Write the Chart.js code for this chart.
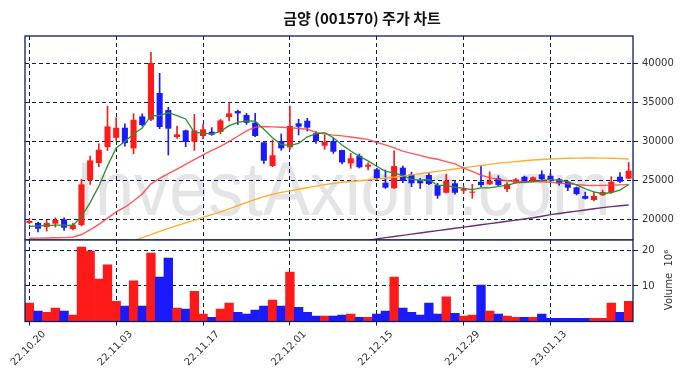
<!DOCTYPE html>
<html lang="ko">
<head>
<meta charset="UTF-8">
<title>금양 (001570) 주가 차트</title>
<script src="https://cdn.jsdelivr.net/npm/chart.js@4/dist/chart.umd.min.js"></script>
<style>
  html, body { margin: 0; padding: 0; background: #fff; }
  .wrap { position: relative; width: 686px; height: 378px; overflow: hidden; }
  #price { position: absolute; left: 0; top: 0; width: 686px; height: 240px; }
  #vol { position: absolute; left: 0; top: 239px; width: 686px; height: 139px; }
</style>
</head>
<body>
<div class="wrap">
  <canvas id="price" width="686" height="240"></canvas>
  <canvas id="vol" width="686" height="139"></canvas>
</div>
<script>
const dates = ['22.10.20','22.10.21','22.10.24','22.10.25','22.10.26','22.10.27','22.10.28','22.10.31',
  '22.11.01','22.11.02','22.11.03','22.11.04','22.11.07','22.11.08','22.11.09','22.11.10','22.11.11',
  '22.11.14','22.11.15','22.11.16','22.11.17','22.11.18','22.11.21','22.11.22','22.11.23','22.11.24',
  '22.11.25','22.11.28','22.11.29','22.11.30','22.12.01','22.12.02','22.12.05','22.12.06','22.12.07',
  '22.12.08','22.12.09','22.12.12','22.12.13','22.12.14','22.12.15','22.12.16','22.12.19','22.12.20',
  '22.12.21','22.12.22','22.12.23','22.12.26','22.12.27','22.12.28','22.12.29','23.01.02','23.01.03',
  '23.01.04','23.01.05','23.01.06','23.01.09','23.01.10','23.01.11','23.01.12','23.01.13','23.01.16',
  '23.01.17','23.01.18','23.01.19','23.01.20','23.01.25','23.01.26','23.01.27','23.01.30'];

const opens = [19600, 19600, 19060, 19490, 20040, 18800, 19320, 25080, 27260, 29310,
  30500, 31790, 29140, 33240, 32820, 36240, 34060, 30600, 31450, 30000,
  30730, 31280, 31240, 33160, 33930, 33420, 32430, 29920, 26880, 30090,
  29280, 32360, 32690, 31080, 29490, 30090, 28930, 27230, 28200, 26800,
  26460, 24740, 24030, 26670, 25820, 25000, 25730, 24450, 23460, 24670,
  23720, 23460, 24870, 24540, 25300, 23930, 24740, 25510, 24870, 25820,
  25640, 25180, 24870, 24150, 23040, 22530, 23130, 23510, 25510, 25260];
const highs = [20100, 19700, 19900, 20250, 20250, 19530, 25170, 28160, 29740, 34560,
  33070, 32300, 33580, 33580, 41460, 38770, 34410, 32000, 31500, 33500,
  32220, 31800, 32860, 35000, 34050, 33630, 33630, 29960, 30220, 31000,
  34580, 32870, 33000, 31290, 30860, 30470, 28930, 28500, 28420, 27300,
  26600, 26370, 28840, 26880, 26090, 25300, 26090, 24660, 25850, 25000,
  24330, 24540, 26880, 26150, 25640, 24750, 25300, 25600, 25500, 26280,
  25950, 25300, 24960, 24200, 23550, 23590, 23810, 25510, 26050, 27340];
const lows = [19500, 18450, 18550, 19060, 18630, 18680, 19190, 24530, 26790, 28880,
  30080, 29440, 28450, 32000, 32700, 31670, 28290, 30430, 29360, 28890,
  30380, 30810, 31020, 32650, 32220, 32220, 30640, 27230, 26800, 28900,
  29020, 30860, 31370, 29790, 29020, 28500, 27140, 26590, 26630, 26370,
  25170, 24010, 24000, 24740, 24230, 24010, 24500, 22740, 23400, 23280,
  23400, 22740, 24230, 24500, 24330, 23590, 24700, 24750, 24870, 24960,
  24830, 24410, 23720, 23160, 22650, 22400, 23100, 23380, 24750, 25260];
const closes = [19850, 18850, 19570, 19960, 18980, 19360, 24530, 27600, 28970, 31960,
  31790, 29820, 32810, 32130, 40090, 31880, 31670, 30940, 29960, 31450,
  31580, 30900, 32730, 33630, 33630, 32430, 30730, 27560, 28260, 29150,
  32010, 31920, 31800, 30090, 29960, 28720, 27350, 27870, 26720, 27050,
  25310, 24100, 26880, 24960, 24670, 24670, 24580, 23080, 25000, 23460,
  23930, 23600, 24450, 24960, 24450, 24540, 25180, 24830, 25430, 25180,
  25090, 24670, 24100, 23290, 22690, 23040, 23550, 24870, 24870, 26280];

// 거래량 (백만 주)
const volumes = [5.2, 2.9, 2.6, 3.8, 2.9, 1.8, 20.9, 19.8, 11.9, 15.9,
  5.7, 4.3, 11.4, 4.3, 19.2, 12.5, 17.8, 3.8, 3.5, 8.5,
  2.1, 1.2, 3.5, 5.2, 2.6, 2.1, 3.2, 4.3, 6.0, 4.3,
  13.9, 4.0, 2.6, 1.5, 1.5, 1.5, 1.8, 2.1, 1.2, 1.2,
  2.1, 2.9, 12.5, 3.8, 2.6, 1.8, 5.2, 2.1, 6.9, 2.3,
  1.5, 1.8, 10.2, 2.9, 2.1, 1.5, 1.2, 1.2, 1.2, 2.1,
  0.9, 0.9, 0.9, 0.9, 0.9, 0.9, 0.9, 5.2, 2.6, 5.7];

const ma5 = [19150, 19200, 19250, 19300, 19300, 19250, 20400, 22200, 24300, 26900,
  29200, 30030, 31000, 31750, 33330, 33350, 33720, 33340, 32910, 31180,
  31120, 30970, 31320, 32060, 32490, 32660, 32630, 31600, 30520, 29630,
  29540, 29780, 30630, 30990, 31160, 30500, 29580, 28800, 28120, 27540,
  26860, 26210, 26010, 25660, 25180, 25060, 25150, 24390, 24400, 24160,
  24010, 23850, 24090, 24080, 24280, 24400, 24720, 24790, 24890, 25030,
  25140, 25040, 24890, 24470, 23970, 23560, 23330, 23490, 23800, 24520];
const ma20 = [17620, 17640, 17660, 17680, 17700, 17750, 18100, 18700, 19400, 20200,
  21000, 21600, 22400, 23300, 24600, 25300, 25900, 26500, 27100, 27700,
  28300, 28900, 29400, 30000, 30700, 31400, 31850, 31950, 31900, 31850,
  31800, 31700, 31600, 31200, 31000, 30850, 30750, 30600, 30450, 30300,
  29900, 29600, 29200, 28800, 28500, 28250, 27950, 27750, 27450, 27150,
  26600, 26200, 25700, 25400, 25150, 25000, 24900, 24880, 24870, 24860,
  24800, 24700, 24600, 24500, 24420, 24380, 24400, 24430, 24460, 24500];
const ma60 = [null, null, null, null, null, null, null, null, null, null,
  null, null, 17300, 17700, 18100, 18500, 18900, 19250, 19600, 19950,
  20300, 20650, 21000, 21400, 21800, 22200, 22600, 22950, 23250, 23500,
  23700, 23900, 24100, 24300, 24500, 24650, 24800, 24900, 25000, 25100,
  25200, 25350, 25450, 25600, 25750, 25900, 26050, 26200, 26350, 26500,
  26650, 26800, 26950, 27100, 27250, 27350, 27450, 27550, 27650, 27720,
  27780, 27830, 27870, 27900, 27920, 27920, 27900, 27870, 27830, 27780];
const ma120 = [null, null, null, null, null, null, null, null, null, null,
  null, null, null, null, null, null, null, null, null, null,
  null, null, null, null, null, null, null, null, null, null,
  null, null, null, null, null, null, null, null, null, 17350,
  17550, 17700, 17850, 18000, 18150, 18300, 18450, 18600, 18750, 18900,
  19050, 19200, 19350, 19500, 19650, 19800, 19950, 20100, 20250, 20450,
  20650, 20800, 20950, 21100, 21250, 21400, 21550, 21680, 21790, 21880];

const priceTicks = [20000, 25000, 30000, 35000, 40000];
const volumeTicks = [10, 20];

const NAVY = '#0b1d5e';
const UP = '#ff1a1a';
const DOWN = '#1a1aff';
const candleColors = closes.map((c, i) => (c >= opens[i] ? UP : DOWN));
const tickFont = { family: 'DejaVu Sans', size: 10 };

// 날짜 10개마다만 세로 격자
const xGridColor = (ctx) => (ctx.index % 10 === 0 ? NAVY : 'rgba(0,0,0,0)');

const frame = {
  id: 'frame',
  afterDraw(chart) {
    const { ctx, chartArea: a } = chart;
    ctx.save();
    ctx.strokeStyle = NAVY;
    ctx.lineWidth = 1.3;
    ctx.strokeRect(a.left, a.top, a.right - a.left, a.bottom - a.top);
    ctx.restore();
  }
};

const watermarkAndTitle = {
  id: 'decor',
  beforeDraw(chart) {
    const ctx = chart.ctx;
    ctx.save();
    ctx.font = '76px "Liberation Sans"';
    ctx.fillStyle = '#e4e4e7';
    ctx.textAlign = 'center';
    const w = ctx.measureText('InvestAxiom.com').width;
    ctx.translate(343, 215);
    ctx.scale(535 / w, 1);
    ctx.fillText('InvestAxiom.com', 0, 0);
    ctx.restore();
  },
  afterDraw(chart) {
    const ctx = chart.ctx;
    ctx.save();
    ctx.font = 'bold 15px "Noto Sans CJK KR"';
    ctx.fillStyle = '#111';
    ctx.textAlign = 'center';
    ctx.textBaseline = 'middle';
    ctx.fillText('금양 (001570) 주가 차트', 362, 18);
    ctx.restore();
  }
};

const volumeText = {
  id: 'volText',
  afterDraw(chart) {
    const { ctx } = chart;
    const xs = chart.scales.x;
    ctx.save();
    ctx.font = '10px "DejaVu Sans"';
    ctx.fillStyle = '#333';
    ctx.textAlign = 'center';
    ctx.textBaseline = 'middle';
    dates.forEach((d, i) => {
      if (i % 10 !== 0) return;
      ctx.save();
      ctx.translate(xs.getPixelForValue(i) - 1, 109.5);
      ctx.rotate(-Math.PI / 4);
      ctx.fillText(d, 0, 0);
      ctx.restore();
    });
    ctx.translate(669, 41);
    ctx.rotate(-Math.PI / 2);
    ctx.fillText('Volume  10⁶', 0, 0);
    ctx.restore();
  }
};

const lineSet = (data, color, width) => ({
  type: 'line', data, borderColor: color, borderWidth: width,
  pointRadius: 0, tension: 0, order: 0, clip: 0
});

new Chart(document.getElementById('price'), {
  type: 'bar',
  data: {
    labels: dates,
    datasets: [
      lineSet(ma5, '#2f8f2f', 1.3),
      lineSet(ma20, 'rgba(255,60,60,0.85)', 1.4),
      lineSet(ma60, '#ffad2a', 1.4),
      lineSet(ma120, '#6e2f6e', 1.4),
      { data: lows.map((l, i) => [l, highs[i]]), backgroundColor: candleColors,
        barThickness: 1, grouped: false, order: 2 },
      { data: opens.map((o, i) => [o, closes[i]]), backgroundColor: candleColors,
        barPercentage: 0.7, categoryPercentage: 1, grouped: false, order: 1 }
    ]
  },
  options: {
    responsive: false,
    animation: false,
    layout: { padding: { left: 25, top: 36, right: 0, bottom: 0 } },
    plugins: { legend: { display: false }, tooltip: { enabled: false } },
    scales: {
      x: {
        offset: true, z: 1,
        grid: { offset: false, color: xGridColor, lineWidth: 1, drawTicks: false },
        border: { display: false, dash: [4, 3] },
        ticks: { display: false, autoSkip: false },
        afterFit: (s) => { s.height = 0; s.paddingLeft = 0; s.paddingRight = 0; }
      },
      y: {
        position: 'right', min: 17400, max: 43550, z: 1,
        grid: { color: NAVY, lineWidth: 1, tickLength: 5, tickColor: NAVY },
        border: { display: false, dash: [4, 3] },
        ticks: { color: '#333', font: tickFont, padding: 4, callback: (v) => String(v) },
        afterBuildTicks: (s) => { s.ticks = priceTicks.map((v) => ({ value: v })); },
        afterFit: (s) => { s.width = 53; s.paddingTop = 0; s.paddingBottom = 0; }
      }
    }
  },
  plugins: [watermarkAndTitle, frame]
});

new Chart(document.getElementById('vol'), {
  type: 'bar',
  data: {
    labels: dates,
    datasets: [
      { data: volumes, backgroundColor: candleColors, barPercentage: 1, categoryPercentage: 1 }
    ]
  },
  options: {
    responsive: false,
    animation: false,
    layout: { padding: { left: 25, top: 1, right: 0, bottom: 0 } },
    plugins: { legend: { display: false }, tooltip: { enabled: false } },
    scales: {
      x: {
        offset: true, z: 1,
        grid: { offset: false, color: xGridColor, lineWidth: 1, drawTicks: true, tickLength: 4 },
        border: { display: false, dash: [4, 3] },
        ticks: { display: false, autoSkip: false },
        afterFit: (s) => { s.height = 56.5; s.paddingLeft = 0; s.paddingRight = 0; }
      },
      y: {
        position: 'right', min: 0, max: 22.9, z: 1,
        grid: { color: NAVY, lineWidth: 1, tickLength: 5, tickColor: NAVY },
        border: { display: false, dash: [4, 3] },
        ticks: { color: '#333', font: tickFont, padding: 4 },
        afterBuildTicks: (s) => { s.ticks = volumeTicks.map((v) => ({ value: v })); },
        afterFit: (s) => { s.width = 53; s.paddingTop = 0; s.paddingBottom = 0; }
      }
    }
  },
  plugins: [frame, volumeText]
});
</script>
</body>
</html>
